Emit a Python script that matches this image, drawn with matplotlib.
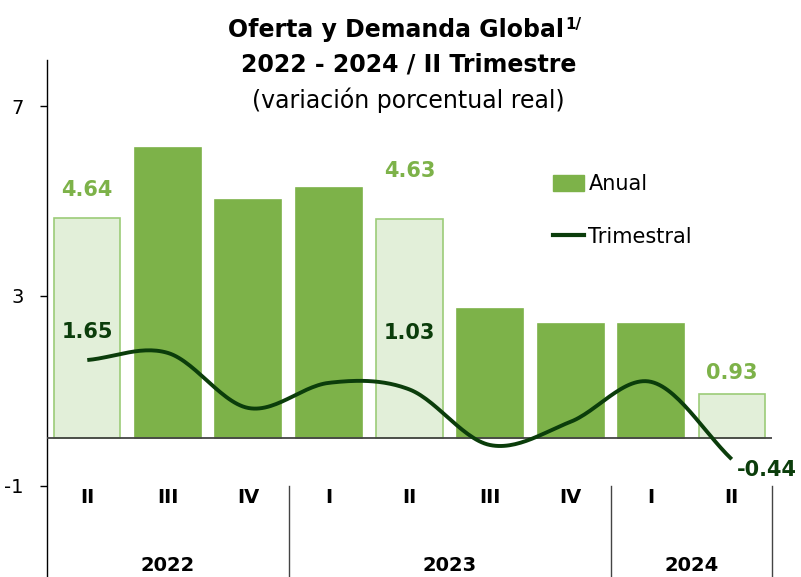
import matplotlib
matplotlib.use('Agg')
import matplotlib.pyplot as plt
from matplotlib.patches import Patch
from matplotlib.lines import Line2D
import numpy as np

# data
quarters = ['II', 'III', 'IV', 'I', 'II', 'III', 'IV', 'I', 'II']
years = ['2022', '2023', '2024']
year_span = [(0, 2), (3, 6), (7, 8)]
anual = [4.64, 6.12, 5.02, 5.27, 4.63, 2.73, 2.41, 2.41, 0.93]
trimestral = [1.65, 1.80, 0.64, 1.17, 1.03, -0.14, 0.35, 1.19, -0.44]
highlight = [0, 4, 8]  # quarters shown with labels / light bars

BAR = '#7db249'
LIGHT = '#e2efd9'
LIGHT_EDGE = '#9ccc78'
LINE = '#0b3d0b'


def catmull_rom(x, y, n=30):
    # smooth curve through the points, like Excel's smoothed line
    x = np.asarray(x, float)
    y = np.asarray(y, float)
    px = np.concatenate([[2 * x[0] - x[1]], x, [2 * x[-1] - x[-2]]])
    py = np.concatenate([[2 * y[0] - y[1]], y, [2 * y[-1] - y[-2]]])
    xs, ys = [], []
    t = np.linspace(0, 1, n)
    for i in range(1, len(px) - 2):
        for p, out in ((px, xs), (py, ys)):
            p0, p1, p2, p3 = p[i - 1], p[i], p[i + 1], p[i + 2]
            out.extend(0.5 * ((2 * p1) + (-p0 + p2) * t
                              + (2 * p0 - 5 * p1 + 4 * p2 - p3) * t ** 2
                              + (-p0 + 3 * p1 - 3 * p2 + p3) * t ** 3))
    return np.array(xs), np.array(ys)


fig = plt.figure(figsize=(8.01, 5.77), dpi=100)
ax = fig.add_axes([47 / 801, 0, (772 - 47) / 801, 1 - 60 / 577])

x = np.arange(len(quarters))
colors = [LIGHT if i in highlight else BAR for i in x]
edges = [LIGHT_EDGE if i in highlight else BAR for i in x]
ax.bar(x, anual, width=0.82, color=colors, edgecolor=edges, linewidth=1.2,
       zorder=2)
ax.axhline(0, color='#444444', lw=1.3, zorder=3)

sx, sy = catmull_rom(x, trimestral)
ax.plot(sx, sy, color=LINE, lw=2.8, solid_capstyle='butt', zorder=4)

# value labels
lab = dict(fontsize=15, fontweight='bold', ha='center', va='center')
ax.text(0, anual[0] + 0.6, f'{anual[0]:.2f}', color=BAR, **lab)
ax.text(4, anual[4] + 1.0, f'{anual[4]:.2f}', color=BAR, **lab)
ax.text(8, anual[8] + 0.45, f'{anual[8]:.2f}', color=BAR, **lab)
ax.text(0, trimestral[0] + 0.6, f'{trimestral[0]:.2f}', color=LINE, **lab)
ax.text(4, trimestral[4] + 1.2, f'{trimestral[4]:.2f}', color=LINE, **lab)
ax.text(8.06, trimestral[8] - 0.22, f'{trimestral[8]:.2f}', color=LINE,
        fontsize=15, fontweight='bold', ha='left', va='center', clip_on=False)

ax.set_xlim(-0.5, 8.5)
ax.set_ylim(-2.92, 7.97)
ax.set_yticks([-1, 3, 7])
ax.set_yticklabels(['-1', '3', '7'], fontsize=14)
ax.tick_params(axis='y', length=5, width=1, pad=12)
ax.set_xticks([])
for s in ['top', 'right', 'bottom']:
    ax.spines[s].set_visible(False)
ax.spines['left'].set_linewidth(1)

# category axis below -1
for i, q in enumerate(quarters):
    ax.text(i, -1.25, q, ha='center', va='center', fontsize=14,
            fontweight='bold', clip_on=False)
for yr, (a, b) in zip(years, year_span):
    ax.text((a + b) / 2, -2.68, yr, ha='center', va='center', fontsize=14,
            fontweight='bold', clip_on=False)
for xs in [2.5, 6.5, 8.5]:
    ax.plot([xs, xs], [-1, -2.92], color='#444444', lw=1, clip_on=False)

handles = [Patch(facecolor=BAR, edgecolor=BAR),
           Line2D([], [], color=LINE, lw=3)]
ax.legend(handles, ['Anual', 'Trimestral'], loc='upper left',
          bbox_to_anchor=(0.672, 0.815), frameon=False, fontsize=15,
          handlelength=1.5, handleheight=0.8, handletextpad=0.2,
          labelspacing=1.55)

# title
fig.text(0.495, 1 - 30 / 577, 'Oferta y Demanda Global', ha='center',
         va='center', fontsize=17, fontweight='bold')
fig.text(0.706, 1 - 24 / 577, '1/', ha='left', va='center', fontsize=11,
         fontweight='bold')
fig.text(0.51, 1 - 64 / 577, '2022 - 2024 / II Trimestre', ha='center',
         va='center', fontsize=17, fontweight='bold')
fig.text(0.51, 1 - 100 / 577, '(variación porcentual real)', ha='center',
         va='center', fontsize=17)

fig.savefig('out.png', dpi=100)
